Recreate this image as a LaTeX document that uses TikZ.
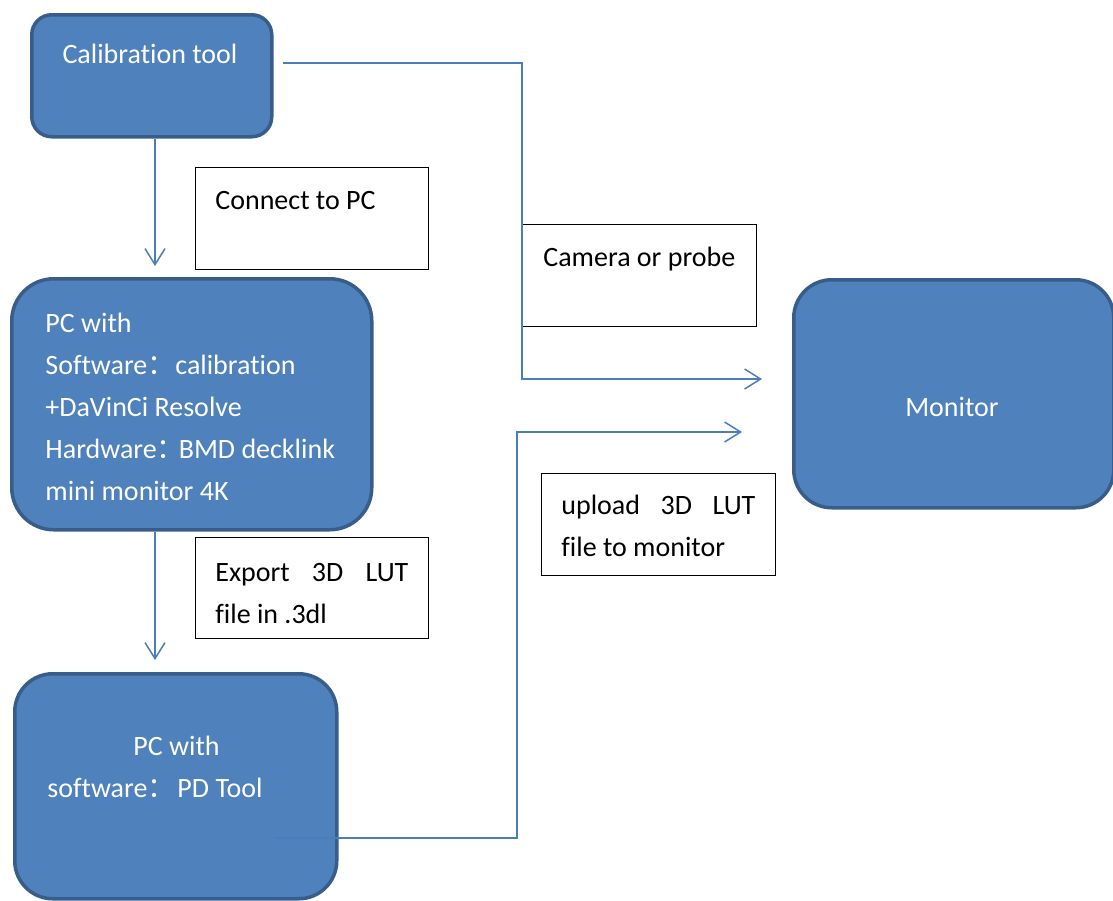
\documentclass[tikz,border=0pt]{standalone}
\usepackage{fontspec}
\setmainfont{Carlito}[Ligatures=NoCommon]
\newfontfamily\cjk{Noto Sans CJK SC}
\usetikzlibrary{arrows.meta}
\definecolor{fuellung}{HTML}{4F81BD}
\definecolor{rand}{HTML}{385D8A}
\definecolor{pfeilblau}{HTML}{4A7EBB}
\newcommand{\kolon}[1]{\makebox[#1][l]{\cjk ：}}
\tikzset{kasten/.style={rectangle,draw=rand,fill=fuellung,line width=1.75pt,anchor=north west,inner sep=0},
	zettel/.style={rectangle,draw=black,line width=0.7pt,anchor=north west,inner sep=0},
	pfeil/.style={draw=pfeilblau,line width=0.75pt,-{Straight Barb[length=8pt,width=10pt]}},
	weiss/.style={text=white,inner sep=0},
	schwarz/.style={text=black,inner sep=0} }

\begin{document}
\begin{tikzpicture}
	[x=0.5pt,y=-0.5pt,
	 font=\fontsize{14}{21}\selectfont]

  \useasboundingbox (0,0) rectangle (1113,900);

  % blue boxes
  \node (cal) [kasten, rounded corners=10pt, minimum width=120pt, minimum height=61pt] at (30,13) {};
  \node (pc) [kasten, rounded corners=21pt, minimum width=180pt, minimum height=125.5pt] at (10,277) {};
  \node (pd) [kasten, rounded corners=19pt, minimum width=161pt, minimum height=112.5pt] at (13,672) {};
  \node (mon) [kasten, rounded corners=19pt, minimum width=160pt, minimum height=114pt] at (792,278) {};

  % note boxes
  \node (con) [zettel, minimum width=116.5pt, minimum height=51pt] at (195,167) {};
  \node (exp) [zettel, minimum width=116.5pt, minimum height=50.5pt] at (195,537) {};
  \node (cam) [zettel, minimum width=117pt, minimum height=51pt] at (522,224) {};
  \node (up) [zettel, minimum width=117pt, minimum height=51pt] at (541,473) {};

  % texts
  \node (caltext) [weiss, anchor=base] at (150,63) {Calibration tool};
  \node (pctext) [weiss, anchor=north west, align=left] at (45,313)
  	{PC with\\Software\kolon{14pt}calibration\\+DaVinCi Resolve\\Hardware\kolon{11pt}BMD decklink\\mini monitor 4K};
  \node (pdtext) [weiss, anchor=north west, align=left] at (47,736)
  	{\hspace*{43pt}PC with\\software\kolon{15pt}PD Tool};
  \node (montext) [weiss, anchor=base] at (952,416) {Monitor};
  \node (context) [schwarz, anchor=base west] at (215,209) {Connect to PC};
  \node (camtext) [schwarz, anchor=base west] at (543,266) {Camera or probe};
  \node (exptext) [schwarz, anchor=north west, align=left] at (215,563)
  	{\makebox[96.5pt][s]{Export 3D LUT}\\file in .3dl};
  \node (uptext) [schwarz, anchor=north west, align=left] at (561,495)
  	{\makebox[97pt][s]{upload 3D LUT}\\file to monitor};

  % connectors
  \coordinate (a1) at (155,266);
  \coordinate (a2) at (155,660);
  \coordinate (k1) at (283,63);
  \coordinate (k2) at (762,379);
  \coordinate (u1) at (275,838);
  \coordinate (knick) at (517,432);
  \coordinate (u2) at (742,432);

  \draw[pfeil] (cal.south -| a1) -- (a1);
  \draw[pfeil] (pc.south -| a2) -- (a2);
  \draw[pfeil] (k1) -| (cam.west) |- (k2);
  \draw[pfeil] (u1) -| (knick) -- (u2);
\end{tikzpicture}
\end{document}
